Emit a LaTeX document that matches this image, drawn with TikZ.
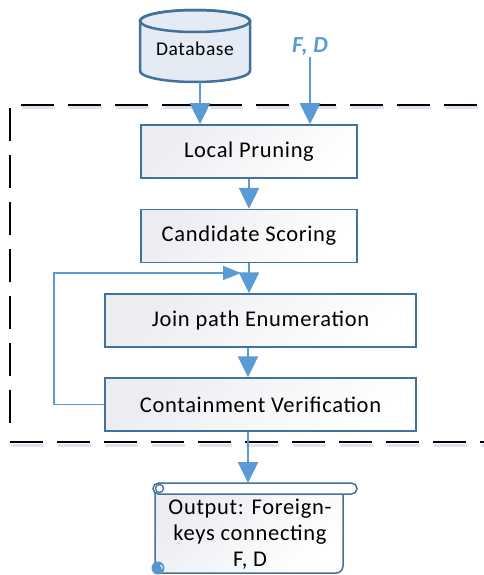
\documentclass[tikz,border=0pt]{standalone}
\usepackage{fontspec}
\setmainfont{Carlito}[LetterSpace=3]
\usetikzlibrary{arrows.meta}
\definecolor{boxline}{HTML}{41719C}
\definecolor{arrowblue}{HTML}{5B9BD5}
\definecolor{dbfill}{HTML}{E4EBF5}
\definecolor{boxgray}{HTML}{EBEDF1}
\definecolor{shadowc}{HTML}{DCE3EE}
\begin{document}
\begin{tikzpicture}[x=1pt,y=-1pt,
  stepbox/.style={draw=boxline, line width=1.5pt, top color=boxgray, bottom color=white, shading angle=45,
    minimum width=216pt, minimum height=53pt, inner sep=0pt, font=\fontsize{22.5}{26}\selectfont},
  widebox/.style={stepbox, minimum width=311pt},
  flow/.style={draw=arrowblue, line width=2.5pt, -{Triangle[length=21pt,width=20pt]}},
  loopline/.style={draw=arrowblue, line width=1.8pt, -{Triangle[length=18pt,width=14pt]}},
  frame/.style={draw=black, line width=2pt, dash pattern=on 33pt off 14pt},
  frameshadow/.style={draw=shadowc, line width=3pt, dash pattern=on 33pt off 14pt},
]
\useasboundingbox (0,0) rectangle (484,575);

% dashed frame (with faint shadow)
\draw[frameshadow] (22,108) -- (490,108);
\draw[frameshadow] (11,445) -- (490,445);
\draw[frame] (21,105) -- (490,105);
\draw[frame] (10,108) -- (10,434);
\draw[frame] (10,442) -- (490,442);

% database cylinder
\path[draw=boxline, line width=2.5pt, fill=dbfill]
  (140,21) -- (140,71) arc[start angle=180, end angle=360, x radius=55pt, y radius=11pt]
  -- (250,21) arc[start angle=0, end angle=180, x radius=55pt, y radius=11pt] -- cycle;
\draw[boxline, line width=2.5pt] (195,21) ellipse[x radius=55pt, y radius=11pt];
\node[minimum width=110pt, minimum height=77pt, inner sep=0pt] (db) at (195,43.5) {};
\node[font=\fontsize{19.5}{23}\selectfont] (dbtext) at (195,49) {Database};

% F, D input
\node[text=arrowblue, font=\bfseries\itshape\fontsize{23}{26}\selectfont, inner sep=1pt] (fd) at (310,47) {F, D};

% process boxes
\node[stepbox] (lp) at (249,151.5) {Local Pruning};
\node[stepbox] (cs) at (249,236) {Candidate Scoring};
\node[widebox] (jp) at (260.5,320.5) {Join path Enumeration};
\node[widebox] (cv) at (260.5,404.5) {Containment Verification};

% output scroll
\path[draw=boxline, line width=1.5pt, top color=boxgray, bottom color=white, shading angle=45, rounded corners=7pt]
  (155,490) -- (155,573) -- (343,573) -- (343,490);
\path[draw=boxline, line width=1.5pt, fill=white, rounded corners=5.5pt]
  (153,483) rectangle (357,494);
\draw[boxline, line width=1.3pt, fill=white] (159.5,488.5) circle[radius=4pt];
\fill[arrowblue!85!boxline] (158,568) circle[radius=6.5pt];
\draw[white, line width=1pt] (160,565.5) arc[start angle=90, end angle=-30, radius=2.2pt];
\node[align=center, font=\fontsize{22.5}{26}\selectfont, inner sep=0pt] (out) at (250,534) {Output: Foreign-\\keys connecting\\F, D};
\coordinate (outtop) at (248,483);

% connectors
\draw[flow] ([xshift=5pt]db.south) -- ([xshift=5pt]db.south |- lp.north);
\draw[flow] (fd.south) -- (fd.south |- lp.north);
\draw[flow] (lp.south) -- (cs.north);
\draw[flow] (cs.south) -- (cs.south |- jp.north);
\draw[flow] ([xshift=-12.5pt]jp.south) -- ([xshift=-12.5pt]cv.north);
\draw[loopline] (cv.west) -- (54,404.5) -- (54,273) -- (241,273);
\draw[flow] ([xshift=-12.5pt]cv.south) -- (outtop);
\end{tikzpicture}
\end{document}
